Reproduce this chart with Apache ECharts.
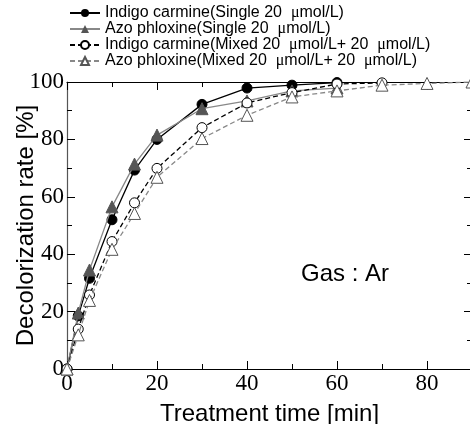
<!DOCTYPE html>
<html>
<head>
<meta charset="utf-8">
<script src="https://cdn.jsdelivr.net/npm/echarts@6/dist/echarts.min.js"></script>
<style>html,body{margin:0;padding:0;background:#fff}#c{width:470px;height:424px}</style>
</head>
<body>
<div id="c"></div>
<script>
var seriesNames = [
  'Indigo carmine(Single 20  μmol/L)',
  'Azo phloxine(Single 20  μmol/L)',
  'Indigo carmine(Mixed 20  μmol/L+ 20  μmol/L)',
  'Azo phloxine(Mixed 20  μmol/L+ 20  μmol/L)'
];
var timeIndigoSingle = [0, 2.5, 5, 10, 15, 20, 30, 40, 50, 60];
var indigoSingle     = [0, 18.5, 31.6, 52.0, 69.3, 80.0, 92.2, 97.9, 98.9, 99.8];
var timeAzoSingle    = [0, 2.5, 5, 10, 15, 20, 30, 40, 50, 60];
var azoSingle        = [0, 19.5, 34.5, 56.5, 71.4, 81.5, 90.7, 93.4, 96.9, 97.9];
var timeIndigoMixed  = [0, 2.5, 5, 10, 15, 20, 30, 40, 50, 60, 70];
var indigoMixed      = [0, 13.9, 25.8, 44.4, 57.9, 69.9, 84.1, 92.7, 96.3, 99.3, 99.7];
var timeAzoMixed     = [0, 2.5, 5, 10, 15, 20, 30, 40, 50, 60, 70, 80, 90];
var azoMixed         = [0, 11.9, 23.9, 41.7, 54.2, 66.8, 80.3, 88.4, 94.8, 96.9, 98.9, 99.5, 100];
var xTickValues = [0, 20, 40, 60, 80];
var yTickValues = [0, 20, 40, 60, 80, 100];

function pairs(xs, ys) { return xs.map(function (x, i) { return [x, ys[i]]; }); }

var chart = echarts.init(document.getElementById('c'), null, { renderer: 'canvas' });
var serif = 'Liberation Serif';
var sans = 'Liberation Sans';

function axisCommon(showLabel) {
  return {
    axisLine: { show: true, onZero: false, lineStyle: { color: '#000', width: 1.2 } },
    axisTick: { show: true, inside: true, length: 8, lineStyle: { color: '#000', width: 1 } },
    minorTick: { show: true, splitNumber: 2, length: 5, lineStyle: { color: '#000', width: 1 } },
    splitLine: { show: false },
    axisLabel: { show: showLabel, fontFamily: serif, fontSize: 23, color: '#000' }
  };
}

var xBottom = Object.assign(axisCommon(true), {
  type: 'value', min: 0, max: 90, interval: 20, position: 'bottom',
  name: 'Treatment time [min]', nameLocation: 'middle', nameGap: 33, nameMoveOverlap: false,
  nameTextStyle: { fontFamily: sans, fontSize: 24, color: '#000' }
});
xBottom.axisLabel.margin = 3;
xBottom.axisLabel.showMaxLabel = false;
xBottom.axisLabel.formatter = function (v) { return xTickValues.indexOf(v) >= 0 ? String(v) : ''; };

var xTop = Object.assign(axisCommon(false), {
  type: 'value', min: 0, max: 90, interval: 20, position: 'top'
});

var yLeft = Object.assign(axisCommon(true), {
  type: 'value', min: 0, max: 100, interval: 20, position: 'left',
  name: 'Decolorization rate [%]', nameLocation: 'middle', nameGap: 29, nameMoveOverlap: false,
  nameTextStyle: { fontFamily: sans, fontSize: 24, color: '#000' }
});
yLeft.axisLine.lineStyle.color = '#555';
yLeft.axisLabel.margin = 3;
yLeft.axisLabel.formatter = function (v) { return yTickValues.indexOf(v) >= 0 ? String(v) : ''; };

var yRight = Object.assign(axisCommon(false), {
  type: 'value', min: 0, max: 100, interval: 20, position: 'right'
});

var option = {
  animation: false,
  backgroundColor: '#fff',
  grid: { left: 67, right: -2, top: 82, bottom: 55, containLabel: false, outerBoundsMode: 'none' },
  legend: {
    orient: 'vertical', left: 64, top: 0,
    itemWidth: 30, itemHeight: 10, itemGap: 0,
    textStyle: { fontFamily: sans, fontSize: 16, color: '#000', lineHeight: 16,
      rich: { s: { fontFamily: serif, fontSize: 16, color: '#000', lineHeight: 16 } } },
    formatter: function (name) { return name.replace(/μ/g, '{s|μ}'); },
    data: seriesNames
  },
  xAxis: [xBottom, xTop],
  yAxis: [yLeft, yRight],
  graphic: [{
    type: 'text', left: 301, top: 262,
    style: { text: 'Gas : Ar', fontFamily: sans, fontSize: 24, fill: '#000' }
  }],
  series: [
    {
      name: seriesNames[0], type: 'line', data: pairs(timeIndigoSingle, indigoSingle),
      symbol: 'circle', symbolSize: 10,
      lineStyle: { color: '#000', width: 1.3 },
      itemStyle: { color: '#000', borderColor: '#000' }, z: 2
    },
    {
      name: seriesNames[1], type: 'line', data: pairs(timeAzoSingle, azoSingle),
      symbol: 'triangle', symbolSize: 12,
      lineStyle: { color: '#888', width: 1.3 },
      itemStyle: { color: '#555', borderColor: '#555' }, z: 3
    },
    {
      name: seriesNames[2], type: 'line', data: pairs(timeIndigoMixed, indigoMixed),
      symbol: 'circle', symbolSize: 10,
      lineStyle: { color: '#000', width: 1.3, type: [5, 3] },
      itemStyle: { color: '#fff', borderColor: '#000', borderWidth: 1 }, z: 4
    },
    {
      name: seriesNames[3], type: 'line', data: pairs(timeAzoMixed, azoMixed),
      symbol: 'triangle', symbolSize: 12,
      lineStyle: { color: '#888', width: 1.3, type: [5, 3] },
      itemStyle: { color: '#fff', borderColor: '#555', borderWidth: 1 }, z: 5
    }
  ]
};
chart.setOption(option);
</script>
</body>
</html>
